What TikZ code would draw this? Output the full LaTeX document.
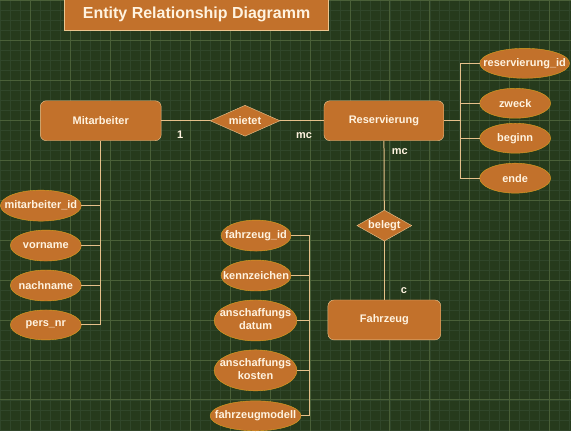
\documentclass[tikz,border=0pt]{standalone}
\usepackage{fontspec}
\setmainfont{Liberation Sans}
\usetikzlibrary{shapes.geometric}
\definecolor{bgGreen}{HTML}{263A1C}
\definecolor{minorGreen}{HTML}{30462A}
\definecolor{majorGreen}{HTML}{4A6038}
\definecolor{erOrange}{HTML}{C2712B}
\definecolor{boxLine}{HTML}{EBC58F}
\definecolor{ovalLine}{HTML}{D9A21E}
\definecolor{linkColor}{HTML}{E6C08A}
\definecolor{erText}{HTML}{FFF3E0}
\newcommand{\attname}[1]{\makebox[0pt]{#1}}
\newcommand{\twolines}[2]{\makebox[0pt]{\begin{tabular}{@{}c@{}}#1\\#2\end{tabular}}}
\tikzset{
  erfont/.style={font=\bfseries\fontsize{11}{13}\selectfont, text=erText},
  titlebox/.style={draw=boxLine, fill=erOrange, line width=1pt, minimum width=265pt, minimum height=31pt,
    font=\bfseries\fontsize{16}{19}\selectfont, text=erText},
  entity/.style={erfont, draw=boxLine, fill=erOrange, rounded corners=6pt, minimum height=40pt},
  relation/.style={erfont, diamond, draw=boxLine, fill=erOrange, inner sep=0pt, minimum height=31pt},
  attr/.style={erfont, ellipse, draw=ovalLine, fill=erOrange, inner sep=0pt, minimum height=31pt},
  card/.style={erfont, inner sep=0pt},
  link/.style={draw=linkColor, line width=1pt}
}
\begin{document}
\begin{tikzpicture}[x=1pt, y=-1pt]
    % Hintergrund mit Raster
    \fill[bgGreen] (0,0) rectangle (571,431);
    \foreach \gx in {0,10,...,570} \draw[minorGreen, line width=0.6pt] (\gx,0) -- (\gx,431);
    \foreach \gy in {0,10,...,430} \draw[minorGreen, line width=0.6pt] (0,\gy) -- (571,\gy);
    \foreach \gx in {30,70,...,550} \draw[majorGreen, line width=0.8pt] (\gx,0) -- (\gx,431);
    \foreach \gy in {0,40,...,400} \draw[majorGreen, line width=0.8pt] (0,\gy) -- (571,\gy);
    \useasboundingbox (0,0) rectangle (571,431);

    \node[titlebox] (title) at (196.5,14.5) {Entity Relationship Diagramm};

    % Entitaeten und Beziehungen
    \node[entity, minimum width=121pt] (mitarbeiter) at (100.5,120.5) {Mitarbeiter};
    \node[relation, minimum width=70pt] (mietet) at (245,120.5) {\attname{mietet}};
    \node[entity, minimum width=120pt] (reservierung) at (384,120.5) {Reservierung};
    \node[relation, minimum width=55pt] (belegt) at (384.5,225.5) {\attname{belegt}};
    \node[entity, minimum width=113pt] (fahrzeug) at (384.5,320) {Fahrzeug};

    \draw[link] (mitarbeiter) -- (mietet);
    \draw[link] (mietet) -- (reservierung);
    \draw[link] (reservierung) -- (belegt);
    \draw[link] (belegt) -- (fahrzeug);

    \node[card] (card1) at (180,135) {1};
    \node[card] (cardmc1) at (304,135) {mc};
    \node[card] (cardmc2) at (400,151) {mc};
    \node[card] (cardc) at (404,291) {c};

    % Attribute Mitarbeiter
    \node[attr, minimum width=81pt] (mid) at (40.5,205.5) {\attname{mitarbeiter\_id}};
    \node[attr, minimum width=71pt] (vorname) at (45.5,245.5) {\attname{vorname}};
    \node[attr, minimum width=71pt] (nachname) at (45.5,285.5) {\attname{nachname}};
    \node[attr, minimum width=71pt, minimum height=30pt] (persnr) at (45.5,325) {\attname{pers\_nr}};
    \draw[link] (mitarbeiter.south) |- (mid.east);
    \draw[link] (mitarbeiter.south) |- (vorname.east);
    \draw[link] (mitarbeiter.south) |- (nachname.east);
    \draw[link] (mitarbeiter.south) |- (persnr.east);

    % Attribute Reservierung
    \node[attr, minimum width=90pt, minimum height=30pt] (rid) at (525,63) {\attname{reservierung\_id}};
    \node[attr, minimum width=71pt, minimum height=30pt] (zweck) at (515.5,103) {\attname{zweck}};
    \node[attr, minimum width=71pt, minimum height=30pt] (beginn) at (515.5,138) {\attname{beginn}};
    \node[attr, minimum width=71pt, minimum height=30pt] (ende) at (515.5,178) {\attname{ende}};
    \coordinate (rbus) at (461,120.5);
    \draw[link] (reservierung.east) -- (rbus);
    \draw[link] (rbus) |- (rid.west);
    \draw[link] (rbus) |- (zweck.west);
    \draw[link] (rbus) |- (beginn.west);
    \draw[link] (rbus) |- (ende.west);

    % Attribute Fahrzeug
    \node[attr, minimum width=70pt] (fid) at (256,235.5) {\attname{fahrzeug\_id}};
    \node[attr, minimum width=70pt] (kennz) at (256,275.5) {\attname{kennzeichen}};
    \node[attr, minimum width=83pt, minimum height=41pt] (adatum) at (255.5,320.5) {\twolines{anschaffungs}{datum}};
    \node[attr, minimum width=83pt, minimum height=41pt] (akosten) at (255.5,370.5) {\twolines{anschaffungs}{kosten}};
    \node[attr, minimum width=91pt, minimum height=30pt] (fmodell) at (255.5,416) {\attname{fahrzeugmodell}};
    \coordinate (fbus) at (310,0);
    \draw[link] (fid.east -| fbus) -- (fmodell.east -| fbus);
    \draw[link] (fid.east) -- (fid.east -| fbus);
    \draw[link] (kennz.east) -- (kennz.east -| fbus);
    \draw[link] (adatum.east) -- (adatum.east -| fbus);
    \draw[link] (akosten.east) -- (akosten.east -| fbus);
    \draw[link] (fmodell.east) -- (fmodell.east -| fbus);
\end{tikzpicture}
\end{document}
